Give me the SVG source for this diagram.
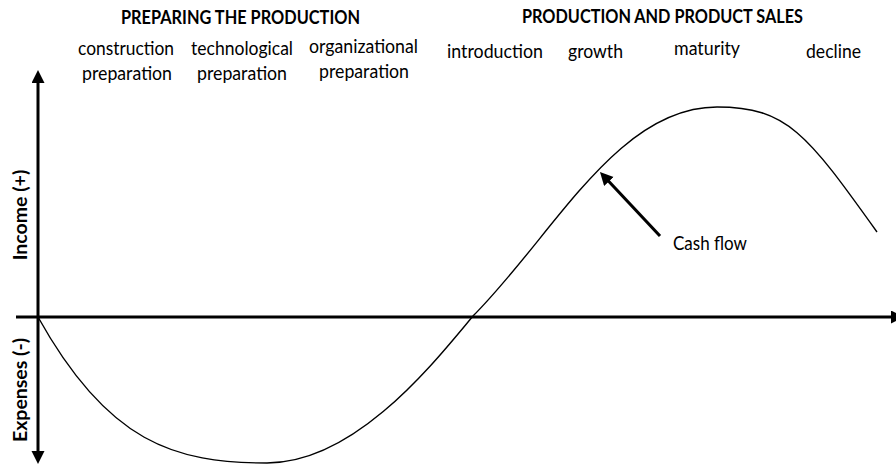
<svg xmlns="http://www.w3.org/2000/svg" width="896" height="466" viewBox="0 0 896 466">
<style>
text{font-family:Lato,"Liberation Sans",sans-serif;fill:#000;font-size:18.5px}
.h{font-weight:bold}
.v{font-size:19.5px}
.ax{stroke:#000;stroke-width:3;fill:none}
.cv{stroke:#000;stroke-width:1.4;fill:none}
</style>
<defs>
<marker id="ah" markerUnits="userSpaceOnUse" markerWidth="14" markerHeight="14" refX="2" refY="6.5" orient="auto-start-reverse" viewBox="0 0 14 14">
<path d="M0,0 L13,6.5 L0,13 z" fill="#000"/>
</marker>
</defs>
<rect width="896" height="466" fill="#fff"/>
<g id="connectors">
<line id="y-axis" class="ax" x1="38" y1="81" x2="38" y2="453" marker-start="url(#ah)" marker-end="url(#ah)"/>
<line id="x-axis" class="ax" x1="16" y1="317" x2="893" y2="317" marker-end="url(#ah)"/>
<path id="cash-flow-curve" class="cv" d="M38,317 C108,443 175,463 267,463 C355,463 433,364 473,316 C553,236 617,107 717,107 C787,107 807,134 877,232"/>
<line id="cash-flow-pointer" class="ax" stroke-width="3.5" x1="660" y1="236" x2="607.5" y2="180" marker-end="url(#ah)"/>
</g>
<g id="header-preparing"><text class="h" x="240.5" y="24" text-anchor="middle" textLength="239" lengthAdjust="spacingAndGlyphs">PREPARING THE PRODUCTION</text></g>
<g id="header-production"><text class="h" x="662.5" y="23" text-anchor="middle" textLength="281" lengthAdjust="spacingAndGlyphs">PRODUCTION AND PRODUCT SALES</text></g>
<g id="stage-construction"><text x="126" y="55" text-anchor="middle" textLength="96" lengthAdjust="spacingAndGlyphs">construction</text><text x="127" y="80" text-anchor="middle" textLength="90" lengthAdjust="spacingAndGlyphs">preparation</text></g>
<g id="stage-technological"><text x="242" y="55" text-anchor="middle" textLength="102" lengthAdjust="spacingAndGlyphs">technological</text><text x="242" y="80" text-anchor="middle" textLength="90" lengthAdjust="spacingAndGlyphs">preparation</text></g>
<g id="stage-organizational"><text x="363.5" y="53" text-anchor="middle" textLength="109" lengthAdjust="spacingAndGlyphs">organizational</text><text x="364" y="78" text-anchor="middle" textLength="90" lengthAdjust="spacingAndGlyphs">preparation</text></g>
<g id="stage-introduction"><text x="495" y="58" text-anchor="middle" textLength="96" lengthAdjust="spacingAndGlyphs">introduction</text></g>
<g id="stage-growth"><text x="595.5" y="58" text-anchor="middle" textLength="55" lengthAdjust="spacingAndGlyphs">growth</text></g>
<g id="stage-maturity"><text x="707" y="55" text-anchor="middle" textLength="66" lengthAdjust="spacingAndGlyphs">maturity</text></g>
<g id="stage-decline"><text x="833.5" y="58" text-anchor="middle" textLength="55" lengthAdjust="spacingAndGlyphs">decline</text></g>
<g id="label-cash-flow"><text x="710" y="250" text-anchor="middle" textLength="74" lengthAdjust="spacingAndGlyphs">Cash flow</text></g>
<g id="label-income"><text class="h v" transform="translate(27,215) rotate(-90)" text-anchor="middle">Income (+)</text></g>
<g id="label-expenses"><text class="h v" transform="translate(27,390) rotate(-90)" text-anchor="middle">Expenses (-)</text></g>
</svg>
